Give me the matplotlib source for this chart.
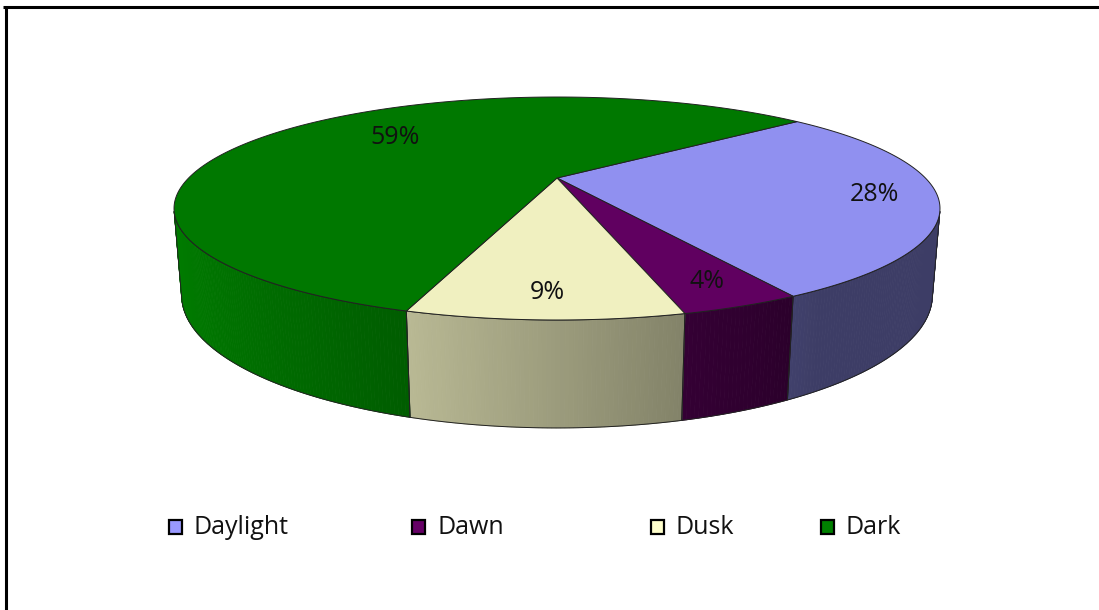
import numpy as np
import matplotlib
matplotlib.use("Agg")
import matplotlib.pyplot as plt
from matplotlib.patches import Polygon, Rectangle
from matplotlib.colors import to_rgb

plt.rcParams['font.family'] = ['Open Sans', 'DejaVu Sans']

# Share of incidents by light condition (percent)
categories = ['Daylight', 'Dawn', 'Dusk', 'Dark']
shares = [28, 4, 9, 59]
base_colors = ['#9999FF', '#660066', '#FFFFCC', '#008000']

# Camera set-up for the tilted 3D disc
F = 1293.0          # focal length in px
DIST = 3.51         # camera distance (disc radius = 1)
TILT = np.arcsin(0.28)
THICK = 0.235       # disc thickness
CX, CY = 557.0, 178.0
START = 40.0        # angle of the first slice edge, degrees, going clockwise

sn, cs = np.sin(TILT), np.cos(TILT)


def project(x, y, z):
    depth = DIST + y * cs - z * sn
    up = y * sn + z * cs
    return CX + F * x / depth, CY - F * up / depth


def rim(theta_deg, z, r=1.0):
    t = np.radians(theta_deg)
    return project(r * np.cos(t), r * np.sin(t), z)


def shade(color, f):
    return tuple(min(1.0, ch * f) for ch in to_rgb(color))


def side_light(theta_rad):
    # brighter on the left-front, flat dark towards the right
    return max(0.40, 0.61 - 0.38 * np.cos(theta_rad))


fig = plt.figure(figsize=(10.99, 6.10), dpi=100)
ax = fig.add_axes([0, 0, 1, 1])
ax.set_xlim(0, 1099)
ax.set_ylim(610, 0)
ax.axis('off')

# slice edge angles
edges = START - 3.6 * np.concatenate([[0], np.cumsum(shares)])

# the side wall faces the camera only for sin(theta) < -1/(DIST*cos)
lim = np.degrees(np.arcsin(1.0 / (DIST * cs)))
vis_lo, vis_hi = -180 + lim, -lim

line_col = '#222222'

# side walls
for i, col in enumerate(base_colors):
    a_hi, a_lo = edges[i], edges[i + 1]
    for shift in (0, -360, 360):
        lo = max(a_lo + shift, vis_lo)
        hi = min(a_hi + shift, vis_hi)
        if hi <= lo:
            continue
        angs = np.linspace(lo, hi, max(2, int((hi - lo) * 2)))
        for a0, a1 in zip(angs[:-1], angs[1:]):
            c = shade(col, side_light(np.radians((a0 + a1) / 2)))
            pts = [rim(a0, 0), rim(a1, 0), rim(a1, -THICK), rim(a0, -THICK)]
            ax.add_patch(Polygon(pts, closed=True, facecolor=c, edgecolor=c,
                                 linewidth=0.6, zorder=2))
        arc = np.linspace(lo, hi, 200)
        top = [rim(a, 0) for a in arc]
        bot = [rim(a, -THICK) for a in arc[::-1]]
        ax.add_patch(Polygon(top + bot, closed=True, facecolor='none',
                             edgecolor=line_col, linewidth=0.7, zorder=3))

# top faces
for i, col in enumerate(base_colors):
    a_hi, a_lo = edges[i], edges[i + 1]
    arc = np.linspace(a_hi, a_lo, 300)
    pts = [project(0, 0, 0)] + [rim(a, 0) for a in arc]
    ax.add_patch(Polygon(pts, closed=True, facecolor=shade(col, 0.94),
                         edgecolor=line_col, linewidth=0.7, zorder=4))

# percentage labels
label_r = [0.84, 0.85, 0.85, 0.66]
label_shift = [0, 0, 0, -8]
for i, v in enumerate(shares):
    mid = (edges[i] + edges[i + 1]) / 2 + label_shift[i]
    lx, ly = rim(mid, 0, label_r[i])
    ax.text(lx, ly, f'{v}%', ha='center', va='center', fontsize=18,
            color='#111111', zorder=5)

# legend
leg_x = [169, 412, 651, 821]
leg_y = 527
for x, name, col in zip(leg_x, categories, base_colors):
    ax.add_patch(Rectangle((x, leg_y - 7), 13, 14, facecolor=col,
                           edgecolor='black', linewidth=1.6, zorder=5))
    ax.text(x + 25, leg_y, name, ha='left', va='center', fontsize=18,
            color='#111111', zorder=5)

# chart frame (top and left edges)
ax.plot([3, 1099], [7, 7], color='black', linewidth=2.2, solid_capstyle='butt')
ax.plot([6, 6], [6, 610], color='black', linewidth=2.2, solid_capstyle='butt')

fig.savefig('out.png', dpi=100)
